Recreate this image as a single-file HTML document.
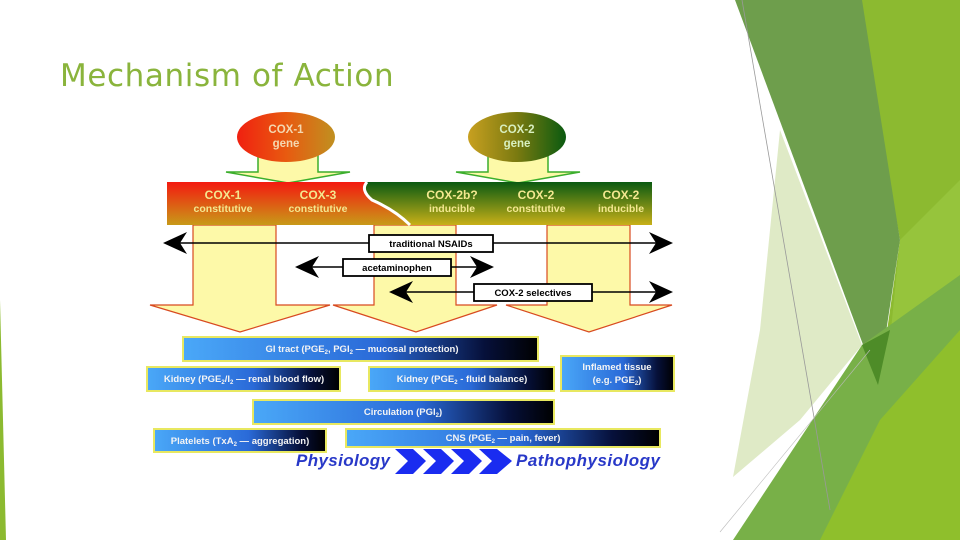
<!DOCTYPE html>
<html><head><meta charset="utf-8"><style>
html,body{margin:0;padding:0;background:#fff}
svg{display:block}
</style></head><body>
<svg width="960" height="540" viewBox="0 0 960 540" xmlns="http://www.w3.org/2000/svg" font-family="Liberation Sans, Arial, sans-serif">
<defs>
<linearGradient id="g1" x1="0" x2="1" y1="0" y2="0"><stop offset="0" stop-color="#f02010"/><stop offset="0.5" stop-color="#e85a10"/><stop offset="1" stop-color="#c09020"/></linearGradient>
<linearGradient id="g2" x1="0" x2="1" y1="0" y2="0"><stop offset="0" stop-color="#c8a020"/><stop offset="0.5" stop-color="#7a7a10"/><stop offset="1" stop-color="#0a5a10"/></linearGradient>
<linearGradient id="bandR" x1="0" x2="0" y1="0" y2="1"><stop offset="0" stop-color="#f41a10"/><stop offset="1" stop-color="#c89a18"/></linearGradient>
<linearGradient id="bandG" x1="0" x2="0" y1="0" y2="1"><stop offset="0" stop-color="#0a5a12"/><stop offset="1" stop-color="#c8b018"/></linearGradient>
<linearGradient id="bx" x1="0" x2="1" y1="0" y2="0"><stop offset="0" stop-color="#4aa8f8"/><stop offset="0.55" stop-color="#2a6ad8"/><stop offset="0.85" stop-color="#06103a"/><stop offset="1" stop-color="#000"/></linearGradient>
</defs>

<!-- right decoration -->
<polygon points="858,0 960,0 960,540 860,540 880,380 900,240" fill="#8cba30"/>
<polygon points="900,240 960,180 960,540 870,540" fill="#96c43c"/>
<polygon points="735,0 862,0 900,240 878,385" fill="#6e9e4c"/>
<polygon points="780,130 862,345 800,420 733,477 760,330" fill="#dfeac6"/>
<polygon points="733,540 862,345 960,275 960,540" fill="#78b048"/>
<polygon points="820,540 880,420 960,330 960,540" fill="#8fbf2c"/>
<polygon points="862,345 878,385 890,330" fill="#4e8c28"/>
<line x1="742" y1="0" x2="830" y2="510" stroke="#999" stroke-width="0.8"/>
<line x1="720" y1="532" x2="870" y2="350" stroke="#bbb" stroke-width="0.6"/>
<polygon points="0,300 6,540 0,540" fill="#8cba30"/>

<text x="60" y="86" font-family="DejaVu Sans, sans-serif" font-size="31" letter-spacing="0.6" fill="#8ab43c">Mechanism of Action</text>

<!-- yellow columns -->
<g fill="#fdf9a8" stroke="#d84a20" stroke-width="1.2">
<polygon points="193,225 276,225 276,305 330,305 240,332 150,305 193,305"/>
<polygon points="374,225 456,225 456,305 497,305 416,332 333,305 374,305"/>
<polygon points="547,225 630,225 630,305 672,305 589,332 506,305 547,305"/>
</g>

<!-- gene arrows -->
<g fill="#fdf9a8" stroke="#3cae2c" stroke-width="1.5">
<polygon points="258,155 318,155 318,172 350,172 288,183 226,172 258,172"/>
<polygon points="488,155 548,155 548,172 580,172 518,183 456,172 488,172"/>
</g>
<ellipse cx="286" cy="137" rx="49" ry="25" fill="url(#g1)"/>
<ellipse cx="517" cy="137" rx="49" ry="25" fill="url(#g2)"/>
<g font-weight="bold" font-size="11.5" text-anchor="middle">
<text x="286" y="133" fill="#f4d8b0">COX-1</text><text x="286" y="147" fill="#f4d8b0">gene</text>
<text x="517" y="133" fill="#d8f0c0">COX-2</text><text x="517" y="147" fill="#d8f0c0">gene</text>
</g>

<!-- band -->
<rect x="167" y="182" width="485" height="43" fill="url(#bandG)"/>
<path d="M167,182 L367,182 Q360,190 372,200 Q395,210 410,225 L167,225Z" fill="url(#bandR)"/>
<path d="M367,182 Q360,190 372,200 Q395,210 410,225" fill="none" stroke="#fff" stroke-width="3"/>
<g font-weight="bold" text-anchor="middle" fill="#f4e890">
<text x="223" y="199" font-size="12">COX-1</text><text x="223" y="212" font-size="10.5">constitutive</text>
<text x="318" y="199" font-size="12">COX-3</text><text x="318" y="212" font-size="10.5">constitutive</text>
<text x="452" y="199" font-size="12">COX-2b?</text><text x="452" y="212" font-size="10.5">inducible</text>
<text x="536" y="199" font-size="12">COX-2</text><text x="536" y="212" font-size="10.5">constitutive</text>
<text x="621" y="199" font-size="12">COX-2</text><text x="621" y="212" font-size="10.5">inducible</text>
</g>

<!-- drug arrows -->
<g stroke="#000" stroke-width="1.6"><line x1="170" y1="243" x2="665" y2="243"/><line x1="302" y1="267" x2="486" y2="267"/><line x1="396" y1="292" x2="665" y2="292"/></g>
<g fill="#000">
<polygon points="163,243 187,232 180,243 187,254"/>
<polygon points="673,243 649,232 656,243 649,254"/>
<polygon points="295,267 319,256 312,267 319,278"/>
<polygon points="494,267 470,256 477,267 470,278"/>
<polygon points="389,292 413,281 406,292 413,303"/>
<polygon points="673,292 649,281 656,292 649,303"/>
</g>
<g fill="#fff" stroke="#000" stroke-width="1.8">
<rect x="369" y="235" width="124" height="17"/><rect x="343" y="259" width="108" height="17"/><rect x="474" y="284" width="118" height="17"/>
</g>
<g font-weight="bold" font-size="9.5" text-anchor="middle" fill="#000">
<text x="431" y="247">traditional NSAIDs</text><text x="397" y="271">acetaminophen</text><text x="533" y="296">COX-2 selectives</text>
</g>

<!-- bottom boxes -->
<g fill="url(#bx)" stroke="#e8e860" stroke-width="2">
<rect x="183" y="337" width="355" height="24"/>
<rect x="147" y="367" width="193" height="24"/>
<rect x="369" y="367" width="185" height="24"/>
<rect x="561" y="356" width="113" height="35"/>
<rect x="253" y="400" width="301" height="24"/>
<rect x="154" y="429" width="172" height="23"/>
<rect x="346" y="429" width="314" height="18"/>
</g>
<g font-weight="bold" font-size="9.5" fill="#f4f4f4" text-anchor="middle">
<text x="362" y="352">GI tract (PGE<tspan font-size="6" dy="2">2</tspan><tspan dy="-2">, PGI</tspan><tspan font-size="6" dy="2">2</tspan><tspan dy="-2"> — mucosal protection)</tspan></text>
<text x="244" y="382">Kidney (PGE<tspan font-size="6" dy="2">2</tspan><tspan dy="-2">/I</tspan><tspan font-size="6" dy="2">2</tspan><tspan dy="-2"> — renal blood flow)</tspan></text>
<text x="462" y="382">Kidney (PGE<tspan font-size="6" dy="2">2</tspan><tspan dy="-2"> - fluid balance)</tspan></text>
<text x="617" y="370">Inflamed tissue</text>
<text x="617" y="383">(e.g. PGE<tspan font-size="6" dy="2">2</tspan><tspan dy="-2">)</tspan></text>
<text x="403" y="415">Circulation (PGI<tspan font-size="6" dy="2">2</tspan><tspan dy="-2">)</tspan></text>
<text x="240" y="444">Platelets (TxA<tspan font-size="6" dy="2">2</tspan><tspan dy="-2"> — aggregation)</tspan></text>
<text x="503" y="441">CNS (PGE<tspan font-size="6" dy="2">2</tspan><tspan dy="-2"> — pain, fever)</tspan></text>
</g>

<g font-weight="bold" font-style="italic" fill="#2838c8">
<text x="296" y="466" font-size="17" textLength="94">Physiology</text><text x="516" y="466" font-size="17" textLength="144">Pathophysiology</text>
</g>
<g fill="#1a2cf0">
<polygon points="395,449 413,449 426,461 413,474 395,474 408,461"/>
<polygon points="423,449 441,449 454,461 441,474 423,474 436,461"/>
<polygon points="451,449 469,449 482,461 469,474 451,474 464,461"/>
<polygon points="479,449 497,449 512,461 497,474 479,474 492,461"/>
</g>
</svg>
</body></html>
